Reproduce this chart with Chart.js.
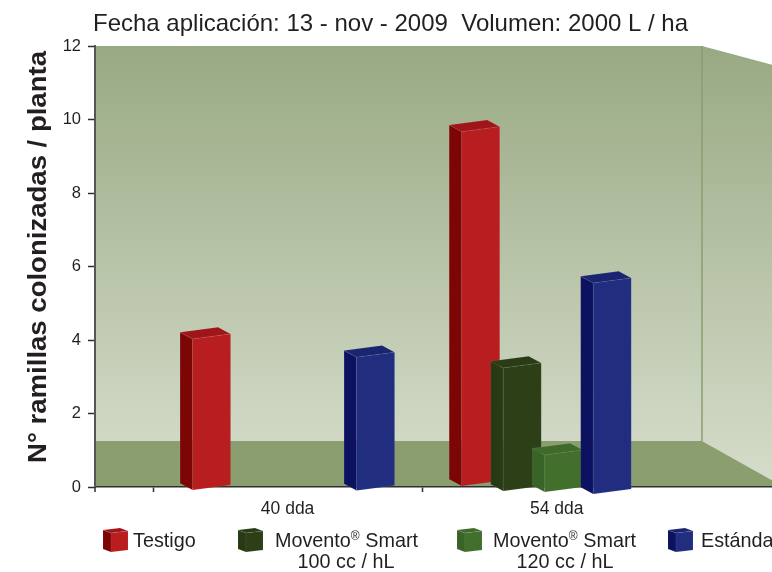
<!DOCTYPE html>
<html>
<head>
<meta charset="utf-8">
<style>
  html, body { margin: 0; padding: 0; background: #fff; overflow: hidden; }
  canvas { display: block; }
</style>
<script src="https://cdn.jsdelivr.net/npm/chart.js@4"></script>
</head>
<body>
<canvas id="chart" width="772" height="572"></canvas>
<script>
// Data
const chartTitle = 'Fecha aplicación: 13 - nov - 2009  Volumen: 2000 L / ha';
const yAxisTitle = 'N° ramillas colonizadas / planta';
const categories = ['40 dda', '54 dda'];
const testigo = [4.03, 9.67];
const movento100 = [null, 3.24];
const movento120 = [null, 0.87];
const estandar = [3.53, 5.55];

// Legend names: [first line, second line]
const legendNames = [
    ['Testigo', ''],
    ['Movento|Smart', '100 cc / hL'],
    ['Movento|Smart', '120 cc / hL'],
    ['Estándar', '']
];

// Colours per series: front, side, top
const palette = [
    ['#b81e20', '#7c0505', '#a01519'],
    ['#2c3f17', '#273a13', '#2a3c15'],
    ['#42702c', '#3a632a', '#3e6a2a'],
    ['#212e80', '#0c1260', '#1a2470']
];

const font = 'Liberation Sans, Arial, sans-serif';
const textColor = '#231f20';

// The source drawing does not use an even grouping, so bars are nudged per category
const barShift = [[-76, -34.5, 7, 88], [-76, -34.5, 7, 55.5]];
const baseDrop = [[3, 0, 0, 3.5], [-1, 4, 5, 7]];

function polygon(ctx, pts, fill, edge) {
    ctx.beginPath();
    pts.forEach((p, i) => i ? ctx.lineTo(p[0], p[1]) : ctx.moveTo(p[0], p[1]));
    ctx.closePath();
    ctx.fillStyle = fill;
    ctx.fill();
    if (edge) {
        ctx.strokeStyle = edge;
        ctx.lineWidth = 0.6;
        ctx.stroke();
    }
}

function drawCuboid(ctx, left, right, top, bottom, colors, dx, dy, slant) {
    const e = 'rgba(255,255,255,0.1)';
    polygon(ctx, [[left, top], [left - dx, top - dy], [left - dx, bottom - dy], [left, bottom]], colors[1], e);
    polygon(ctx, [[left, top], [left - dx, top - dy], [right - dx, top - dy - slant], [right, top - slant]], colors[2], e);
    polygon(ctx, [[left, top], [right, top - slant], [right, bottom - slant], [left, bottom]], colors[0], e);
}

// Room behind the bars: back wall, right wall and floor
const roomPlugin = {
    id: 'room',
    beforeDraw(chart) {
        const { ctx, chartArea: a, scales } = chart;
        const floorY = scales.y.getPixelForValue(1.25);
        const wallX = 702;
        ctx.save();
        ctx.beginPath();
        ctx.rect(a.left, a.top, a.right - a.left, a.bottom - a.top);
        ctx.clip();
        const g = ctx.createLinearGradient(0, a.top, 0, floorY);
        g.addColorStop(0, '#99a983');
        g.addColorStop(1, '#d1d9c6');
        ctx.fillStyle = g;
        ctx.fillRect(a.left, a.top, wallX - a.left, floorY - a.top);
        const g2 = ctx.createLinearGradient(0, a.top, 0, a.bottom);
        g2.addColorStop(0, '#99a983');
        g2.addColorStop(1, '#d6ddcb');
        polygon(ctx, [[wallX, a.top], [wallX + 82, a.top + 22], [wallX + 82, a.bottom], [wallX, floorY]], g2);
        polygon(ctx, [[a.left, floorY], [wallX, floorY], [wallX + 82, a.bottom], [a.left, a.bottom]], '#8a9e70');
        ctx.strokeStyle = '#8a9e70';
        ctx.lineWidth = 1.5;
        ctx.beginPath();
        ctx.moveTo(wallX, a.top);
        ctx.lineTo(wallX, floorY);
        ctx.stroke();
        ctx.restore();
    }
};

// Puts each bar where the source has it, then draws it as a cuboid
const cuboidPlugin = {
    id: 'cuboid',
    afterDatasetsUpdate(chart) {
        chart.data.datasets.forEach((ds, d) => {
            chart.getDatasetMeta(d).data.forEach((bar, i) => {
                bar.x = chart.scales.x.getPixelForValue(i + 0.5) + barShift[i][d];
                bar.base = chart.scales.y.getPixelForValue(0) + baseDrop[i][d];
            });
        });
    },
    beforeDatasetDraw(chart, args) {
        const { ctx } = chart;
        args.meta.data.forEach((bar, i) => {
            if (bar.skip || chart.data.datasets[args.index].data[i].y === null) return;
            const half = bar.width / 2;
            drawCuboid(ctx, bar.x - half, bar.x + half, bar.y, bar.base, palette[args.index], 12.5, 6.7, 5);
        });
        return false;
    }
};

// Title, y title and legend sit at fixed places in the source
const textPlugin = {
    id: 'texts',
    afterDraw(chart) {
        const { ctx, chartArea: a } = chart;
        ctx.save();
        // tick at the axis corner
        ctx.strokeStyle = '#2e2e2e';
        ctx.lineWidth = 1.5;
        ctx.beginPath();
        ctx.moveTo(a.left, a.bottom);
        ctx.lineTo(a.left, a.bottom + 5);
        ctx.stroke();

        ctx.fillStyle = textColor;
        ctx.textBaseline = 'alphabetic';
        ctx.font = '24px ' + font;
        ctx.fillText(chartTitle, 93, 31);

        ctx.save();
        ctx.translate(46, 257);
        ctx.rotate(-Math.PI / 2);
        ctx.scale(1.08, 1);
        ctx.textAlign = 'center';
        ctx.font = 'bold 25.5px ' + font;
        ctx.fillText(yAxisTitle, 0, 0);
        ctx.restore();

        const iconX = [111, 246, 465, 676];
        const textX = [133, 275, 493, 701];
        const subX = [0, 346, 565, 0];
        legendNames.forEach((name, i) => {
            drawCuboid(ctx, iconX[i], iconX[i] + 17, 533, 552, palette[i], 8, 3, 2);
            ctx.fillStyle = textColor;
            ctx.textAlign = 'left';
            ctx.font = '19.8px ' + font;
            const parts = name[0].split('|');
            ctx.fillText(parts[0], textX[i], 547);
            if (parts[1]) {
                let x = textX[i] + ctx.measureText(parts[0]).width;
                ctx.font = '12px ' + font;
                ctx.fillText('®', x, 540);
                x += ctx.measureText('®').width;
                ctx.font = '19.8px ' + font;
                ctx.fillText(' ' + parts[1], x, 547);
            }
            if (name[1]) {
                ctx.textAlign = 'center';
                ctx.fillText(name[1], subX[i], 568);
            }
        });
        ctx.restore();
    }
};

const datasets = [testigo, movento100, movento120, estandar].map((values, d) => ({
    label: legendNames[d][0].replace('|', ' ') + (legendNames[d][1] ? ' ' + legendNames[d][1] : ''),
    data: values.map((v, i) => ({ x: i + 0.5, y: v })),
    backgroundColor: palette[d][0],
    barThickness: 38,
    order: 3 - d
}));

new Chart(document.getElementById('chart'), {
    type: 'bar',
    data: { datasets },
    plugins: [roomPlugin, cuboidPlugin, textPlugin],
    options: {
        responsive: false,
        animation: false,
        layout: { padding: { top: 46, left: 0, right: 0, bottom: 0 } },
        plugins: {
            legend: { display: false },
            title: { display: false },
            tooltip: { enabled: false }
        },
        scales: {
            x: {
                type: 'linear',
                min: -0.2156,
                max: 2.3,
                offset: false,
                afterFit: s => { s.height = 85; s.paddingRight = 0; s.paddingLeft = 0; },
                border: { color: '#2e2e2e', width: 1.5 },
                grid: {
                    offset: false,
                    drawOnChartArea: false,
                    tickLength: 5,
                    tickWidth: 1.5,
                    tickColor: c => (c.tick && c.tick.value <= 1 && !categories[c.tick.value - 0.5]) ? '#2e2e2e' : 'transparent'
                },
                ticks: {
                    stepSize: 0.5,
                    includeBounds: false,
                    autoSkip: false,
                    maxRotation: 0,
                    padding: 7,
                    color: textColor,
                    font: { family: font, size: 17.5 },
                    callback: v => categories[v - 0.5] || ''
                }
            },
            y: {
                min: 0,
                max: 12,
                afterFit: s => { s.width = 95; },
                border: { color: '#555', width: 2 },
                grid: { drawOnChartArea: false, tickLength: 7, tickColor: '#2e2e2e', tickWidth: 1.5 },
                ticks: {
                    stepSize: 2,
                    padding: 7,
                    color: textColor,
                    font: { family: font, size: 16.5 }
                }
            }
        }
    }
});
</script>
</body>
</html>
